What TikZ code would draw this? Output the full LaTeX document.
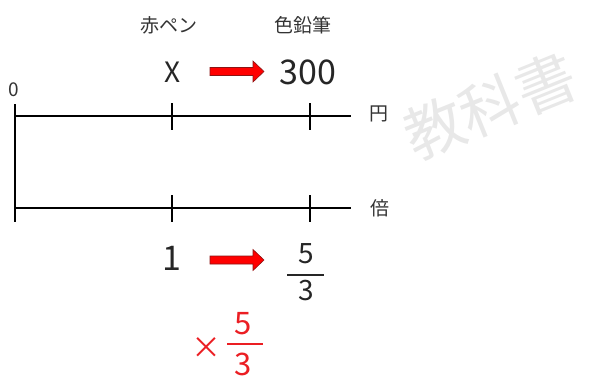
\documentclass[tikz,border=0pt]{standalone}
\usepackage{fontspec}
\setmainfont{Noto Sans CJK JP}
\newfontfamily\jpfont{Noto Sans CJK JP}
\definecolor{arrred}{RGB}{255,0,0}
\definecolor{arrline}{RGB}{140,20,20}
\definecolor{fracred}{RGB}{235,30,35}
\tikzset{
  numline/.style={line width=2.2pt, black},
  tick/.style={line width=2.2pt, black},
  jplabel/.style={inner sep=0pt, font=\jpfont\fontsize{19}{19}\selectfont, text=black!80},
  bignum/.style={inner sep=0pt, font=\fontsize{34}{34}\selectfont, text=black!85},
  fracnum/.style={inner sep=0pt, font=\fontsize{28}{28}\selectfont, text=black!85},
  redfrac/.style={inner sep=0pt, font=\fontsize{31}{31}\selectfont, text=fracred},
  blockarrow/.style={fill=arrred, draw=arrline, line width=0.6pt, line join=miter},
}
\begin{document}
\begin{tikzpicture}[x=1pt,y=-1pt]
\useasboundingbox (0,0) rectangle (589,376);
% watermark
\node[inner sep=0pt, rotate=22, text=black!9, font=\jpfont\fontsize{60}{60}\selectfont] (wm) at (490,106) {教科書};
% axes coordinates
\coordinate (L0) at (15,116);
\coordinate (L1) at (351,116);
\coordinate (B0) at (15,208);
\coordinate (B1) at (351,208);
\coordinate (V0) at (15,104);
\coordinate (V1) at (15,222);
\draw[numline] (L0) -- (L1);
\draw[numline] (B0) -- (B1);
\draw[numline] (V0) -- (V1);
% ticks
\coordinate (t1a) at (172,103); \coordinate (t1b) at (172,130);
\coordinate (t2a) at (310,103); \coordinate (t2b) at (310,130);
\coordinate (t3a) at (172,195); \coordinate (t3b) at (172,222);
\coordinate (t4a) at (310,195); \coordinate (t4b) at (310,222);
\draw[tick] (t1a) -- (t1b);
\draw[tick] (t2a) -- (t2b);
\draw[tick] (t3a) -- (t3b);
\draw[tick] (t4a) -- (t4b);
% labels
\node[inner sep=0pt, font=\fontsize{19}{19}\selectfont, text=black!80] (zero) at (14,90) {0};
\node[jplabel] (akapen) at (169,25) {赤ペン};
\node[jplabel] (iroenpitsu) at (303,25) {色鉛筆};
\node[jplabel] (en) at (379,114) {円};
\node[jplabel] (bai) at (380,208) {倍};
\node[inner sep=0pt, font=\fontsize{28}{28}\selectfont, text=black!85] (x) at (173,72) {X};
\node[bignum] (p300) at (308,72) {300};
\node[bignum] (one) at (172,258) {1};
% black fraction
\node[fracnum] (f5) at (306,254) {5};
\node[fracnum] (f3) at (306,291) {3};
\coordinate (fb0) at (287,274.5);
\coordinate (fb1) at (324,274.5);
\draw[line width=2pt, black!85] (fb0) -- (fb1);
% red multiplier
\node[inner sep=0pt, text=fracred, font=\fontsize{30}{30}\selectfont] (times) at (206,348) {×};
\node[redfrac] (r5) at (243,324) {5};
\node[redfrac] (r3) at (243,364) {3};
\coordinate (rb0) at (227,344);
\coordinate (rb1) at (263,344);
\draw[line width=2pt, fracred] (rb0) -- (rb1);
% block arrows
\draw[blockarrow] (210,67.5) -- (253,67.5) -- (253,61) -- (264,71.5) -- (253,82) -- (253,75.5) -- (210,75.5) -- cycle;
\draw[blockarrow] (210,256) -- (253,256) -- (253,249.5) -- (264,260) -- (253,270.5) -- (253,264) -- (210,264) -- cycle;
\end{tikzpicture}
\end{document}
